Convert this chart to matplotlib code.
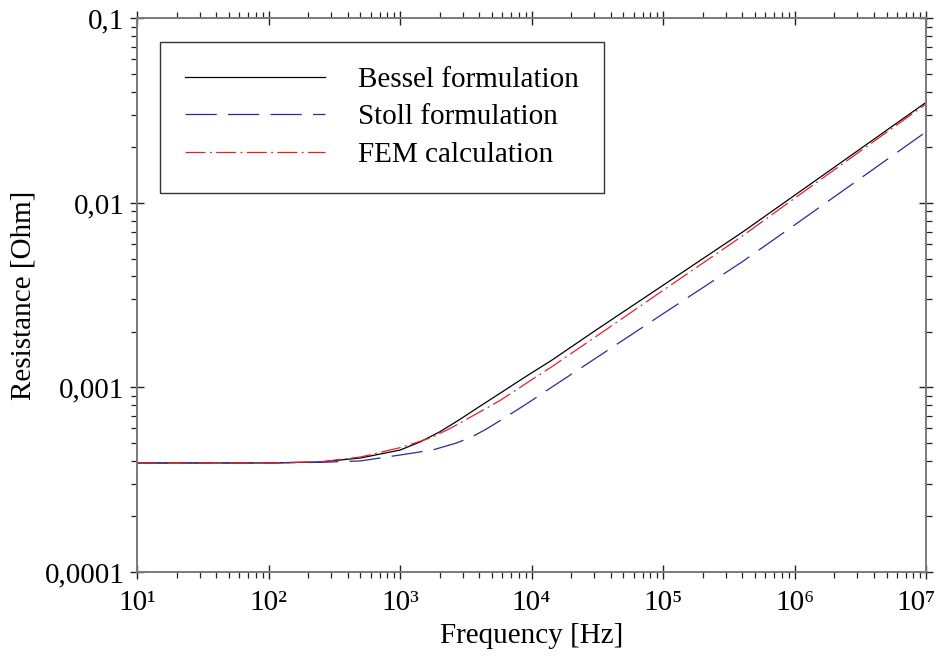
import numpy as np
import matplotlib
matplotlib.use("Agg")
import matplotlib.pyplot as plt
import matplotlib.transforms as mtransforms
from matplotlib.ticker import LogLocator, FuncFormatter, NullFormatter

plt.rcParams['font.family'] = ['Liberation Serif', 'DejaVu Serif']

# frequency grid (log10 of Hz) and resistance values
bessel_logf = [1, 2, 2.4, 2.7, 3.0, 3.15, 3.3, 3.45, 3.6, 3.76, 3.9, 4.0, 4.15, 4.5, 5, 5.6, 6, 7]
bessel_r = [3.9e-4, 3.9e-4, 3.95e-4, 4.15e-4, 4.58e-4, 5.06e-4, 5.74e-4, 6.68e-4, 7.85e-4,
            9.3e-4, 1.08e-3, 1.2e-3, 1.40e-3, 2.07e-3, 3.58e-3, 6.92e-3, 1.1e-2, 3.51e-2]

stoll_logf = [1, 2, 2.4, 2.7, 3.05, 3.25, 3.42, 3.54, 3.65, 3.76, 3.9, 4.0, 4.15, 4.5, 5, 5.6, 6, 7]
stoll_r = [3.9e-4, 3.9e-4, 3.93e-4, 4.0e-4, 4.36e-4, 4.59e-4, 4.98e-4, 5.37e-4, 5.92e-4,
           6.61e-4, 7.64e-4, 8.49e-4, 1.0e-3, 1.46e-3, 2.51e-3, 4.79e-3, 7.6e-3, 2.43e-2]

fem_logf = [1, 2, 2.4, 2.7, 3.0, 3.15, 3.25, 3.4, 3.6, 3.76, 4.0, 4.15, 4.5, 5, 5.6, 6, 7]
fem_r = [3.9e-4, 3.9e-4, 3.96e-4, 4.2e-4, 4.72e-4, 5.1e-4, 5.4e-4, 6.1e-4, 7.33e-4,
         8.5e-4, 1.1e-3, 1.29e-3, 1.91e-3, 3.36e-3, 6.6e-3, 1.06e-2, 3.44e-2]

labels = ["Bessel formulation", "Stoll formulation", "FEM calculation"]
xtick_exp = [1, 2, 3, 4, 5, 6, 7]
ytick_vals = [1e-4, 1e-3, 1e-2, 1e-1]
ytick_labels = ["0,0001", "0,001", "0,01", "0,1"]
sup = "⁰¹²³⁴⁵⁶⁷⁸⁹"

fig = plt.figure(figsize=(9.45, 6.59), dpi=100)
ax = fig.add_axes([0.145, 0.132, 0.835, 0.840])

ax.plot(10 ** np.array(bessel_logf), bessel_r, color="black", lw=0.9, label=labels[0])
ax.plot(10 ** np.array(stoll_logf), stoll_r, color="#2a2a9a", lw=0.9,
        dashes=(25, 9), label=labels[1])
ax.plot(10 ** np.array(fem_logf), fem_r, color="#e8202a", lw=0.9,
        dashes=(16, 3.5, 1.5, 3.5), label=labels[2])

ax.set_xscale("log")
ax.set_yscale("log")
ax.set_xlim(10, 1e7)
ax.set_ylim(1e-4, 1e-1)

ax.set_xticks([10.0 ** e for e in xtick_exp], ["10" + sup[e] for e in xtick_exp])
ax.set_yticks(ytick_vals, ytick_labels)
ax.xaxis.set_minor_locator(LogLocator(base=10, subs=np.arange(2, 10), numticks=20))
ax.yaxis.set_minor_locator(LogLocator(base=10, subs=np.arange(2, 10), numticks=20))
ax.xaxis.set_minor_formatter(NullFormatter())
ax.yaxis.set_minor_formatter(NullFormatter())

ax.tick_params(which="major", direction="inout", length=10, width=1.0, color="#222222",
               top=True, right=True, labelsize=21)
ax.tick_params(axis="y", which="major", pad=4)
ax.tick_params(axis="x", which="major", pad=8)
ax.tick_params(which="minor", direction="out", length=4, width=0.9, color="#222222",
               top=True, right=True)
for s in ax.spines.values():
    s.set_color("#7a7a7a")
    s.set_linewidth(1.4)

ax.set_xlabel("Frequency [Hz]", fontsize=21, labelpad=5)
ax.set_ylabel("Resistance [Ohm]", fontsize=21, labelpad=6)

leg = ax.legend(loc="upper left", bbox_to_anchor=(0.029, 0.958), fontsize=21,
                handlelength=4.8, handletextpad=1.15, borderpad=0.85, labelspacing=0.38,
                fancybox=False, framealpha=1, borderaxespad=0)
leg.get_frame().set_edgecolor("#333333")
leg.get_frame().set_linewidth(1.0)

# nudge the last x label left so it stays inside the figure
fig.canvas.draw()
lab = ax.xaxis.get_major_ticks()[-1].label1
lab.set_transform(lab.get_transform() +
                  mtransforms.ScaledTranslation(-7 / 72, 0, fig.dpi_scale_trans))

fig.savefig("out.png", dpi=100)
